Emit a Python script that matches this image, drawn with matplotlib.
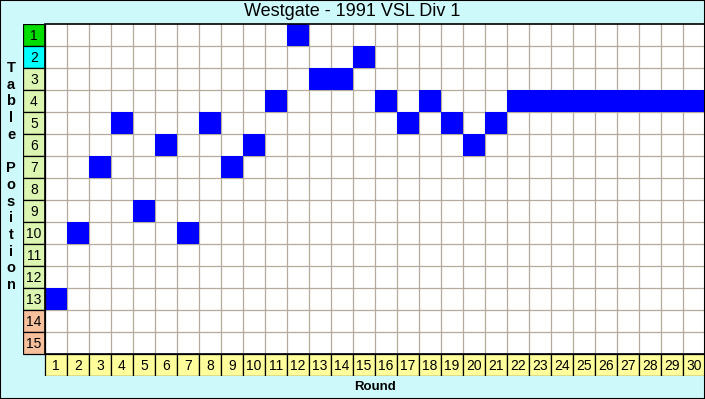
import matplotlib.pyplot as plt
from matplotlib.patches import Rectangle

plt.rcParams['font.family'] = ['Liberation Sans', 'DejaVu Sans']

title = 'Westgate - 1991 VSL Div 1'
rounds = list(range(1, 31))
positions = [13, 10, 7, 5, 9, 6, 10, 5, 7, 6, 4, 1, 3, 3, 2,
             4, 5, 4, 5, 6, 5, 4, 4, 4, 4, 4, 4, 4, 4, 4]
table_rows = list(range(1, 16))
row_colors = (['#00dd00', '#00ffff'] + ['#dcf6b2'] * 11 + ['#f6c09c'] * 2)

bg = '#cdf9fb'
grid_col = '#b4ab9c'
W, H = 705, 399

fig = plt.figure(figsize=(W / 100, H / 100), dpi=100, facecolor=bg)
# grid area incl. label column and label row: x 23..705, y 24..376 (pixels)
ax = fig.add_axes([23 / W, (H - 376) / H, 682 / W, 352 / H])
ax.set_xlim(-0.5, 30.5)
ax.set_ylim(16.5, 0.5)
ax.axis('off')

# white playing area
ax.add_patch(Rectangle((0.5, 0.5), 30, 15, facecolor='white', edgecolor='none', zorder=0))
for x in range(1, 30):
    ax.plot([x + 0.5, x + 0.5], [0.5, 15.5], color=grid_col, lw=0.9, zorder=1)
for y in range(1, 15):
    ax.plot([0.5, 30.5], [y + 0.5, y + 0.5], color=grid_col, lw=0.9, zorder=1)

# position marks
ax.bar(rounds, 1, bottom=[p - 0.5 for p in positions], width=1,
       color='#0000ff', edgecolor='none', zorder=2)

# left label column
ax.bar([0] * len(table_rows), 1, bottom=[r - 0.5 for r in table_rows], width=1,
       color=row_colors, edgecolor='black', lw=0.9, zorder=3)
for r in table_rows:
    ax.text(0, r + 0.05, str(r), ha='center', va='center', fontsize=10, zorder=4)

# bottom label row
ax.bar(rounds, 1, bottom=15.5, width=1, color='#fdfd9c', edgecolor='black',
       lw=0.9, zorder=3)
for rd in rounds:
    ax.text(rd, 16.05, str(rd), ha='center', va='center', fontsize=10, zorder=4)

# outline of playing area
ax.add_patch(Rectangle((0.5, 0.5), 30, 15, facecolor='none', edgecolor='black',
                       lw=1.2, zorder=5, clip_on=False))

fig.text(352 / W, 1 - 12 / H, title, ha='center', va='center', fontsize=13)
fig.text(375 / W, 1 - 387 / H, 'Round', ha='center', va='center',
         fontsize=9.5, fontweight='bold')
label = 'Table Position'
for i, ch in enumerate(label):
    if ch != ' ':
        fig.text(11 / W, 1 - (68 + i * 16.7) / H, ch, ha='center', va='center',
                 fontsize=10.5, fontweight='bold')

fig.add_artist(Rectangle((0, 0), 1, 1, transform=fig.transFigure, facecolor='none',
                         edgecolor='black', lw=1.5))

fig.savefig('out.png', dpi=100, facecolor=bg)
